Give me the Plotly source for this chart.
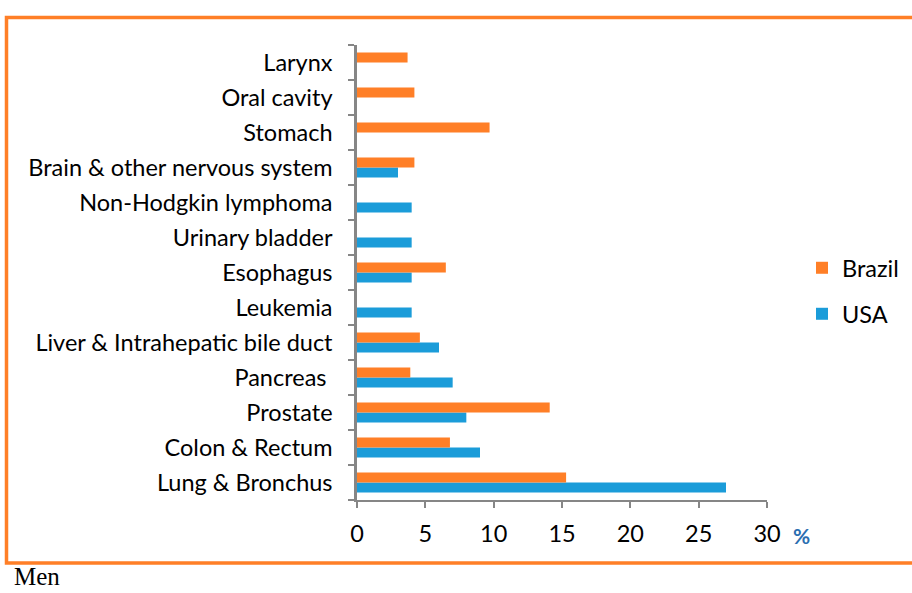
import plotly.graph_objects as go

categories = ["Lung & Bronchus", "Colon & Rectum", "Prostate", "Pancreas ",
              "Liver & Intrahepatic bile duct", "Leukemia", "Esophagus",
              "Urinary bladder", "Non-Hodgkin lymphoma",
              "Brain & other nervous system", "Stomach", "Oral cavity", "Larynx"]
brazil = [15.3, 6.8, 14.1, 3.9, 4.6, None, 6.5, None, None, 4.2, 9.7, 4.2, 3.7]
usa = [27.0, 9.0, 8.0, 7.0, 6.0, 4.0, 4.0, 4.0, 4.0, 3.0, None, None, None]
x_ticks = [0, 5, 10, 15, 20, 25, 30]

ORANGE = "#FF7F27"
BLUE = "#1B9CD9"
W, H = 912, 593
L, R, T, B = 357, 767, 45, 500

def px(x):
    return (x - L) / (R - L)

def py(y):
    return (B - y) / (B - T)

fig = go.Figure()
fig.add_trace(go.Bar(y=categories, x=usa, orientation="h", name="USA",
                     marker=dict(color=BLUE, line=dict(width=0)), legend="legend2"))
fig.add_trace(go.Bar(y=categories, x=brazil, orientation="h", name="Brazil",
                     marker=dict(color=ORANGE, line=dict(width=0)), legend="legend"))

font_main = "Lato, 'Open Sans', sans-serif"
FS = 23.5
fig.update_layout(
    width=W, height=H,
    margin=dict(l=L, r=W - R, t=T, b=H - B, autoexpand=False),
    paper_bgcolor="white", plot_bgcolor="white",
    barmode="group", bargap=0.43, bargroupgap=0,
    font=dict(family=font_main, size=FS, color="#000000"),
    xaxis=dict(range=[0, 30], tickvals=x_ticks, showgrid=False, zeroline=False,
               showline=True, linecolor="#868686", linewidth=2,
               ticks="outside", ticklen=6, tickcolor="#868686", tickwidth=1.5,
               tickfont=dict(size=FS, family=font_main), ticklabelstandoff=6),
    yaxis=dict(categoryorder="array", categoryarray=categories, showgrid=False,
               zeroline=False, showline=True, linecolor="#868686", linewidth=2.5,
               ticks="outside", ticklen=6, tickcolor="#868686", tickwidth=1.5,
               tickson="boundaries", tickfont=dict(size=FS, family=font_main),
               ticklabelstandoff=17),
    legend=dict(x=px(802), y=py(268), xanchor="left", yanchor="middle",
                font=dict(size=FS, family=font_main), bgcolor="rgba(0,0,0,0)"),
    legend2=dict(x=px(802), y=py(314), xanchor="left", yanchor="middle",
                 font=dict(size=FS, family=font_main), bgcolor="rgba(0,0,0,0)"),
    showlegend=True,
    shapes=[dict(type="rect", xref="paper", yref="paper",
                 x0=px(6.5), x1=px(930), y0=py(563), y1=py(17.5),
                 line=dict(color=ORANGE, width=3.5), fillcolor="rgba(0,0,0,0)",
                 layer="below")],
    annotations=[
        dict(text="<b>%</b>", xref="paper", yref="paper", x=px(801), y=py(535),
             xanchor="center", yanchor="middle", showarrow=False,
             font=dict(size=21, color="#2A6EB0", family=font_main)),
        dict(text="Men", xref="paper", yref="paper", x=px(12), y=py(592),
             xanchor="left", yanchor="bottom", showarrow=False,
             font=dict(size=25, color="#000000",
                       family="'Liberation Serif', 'DejaVu Serif', serif")),
    ],
)

fig.write_html("out.html", config={"displayModeBar": False},
               post_script="document.body.style.margin='0px';document.body.style.overflow='hidden';")
